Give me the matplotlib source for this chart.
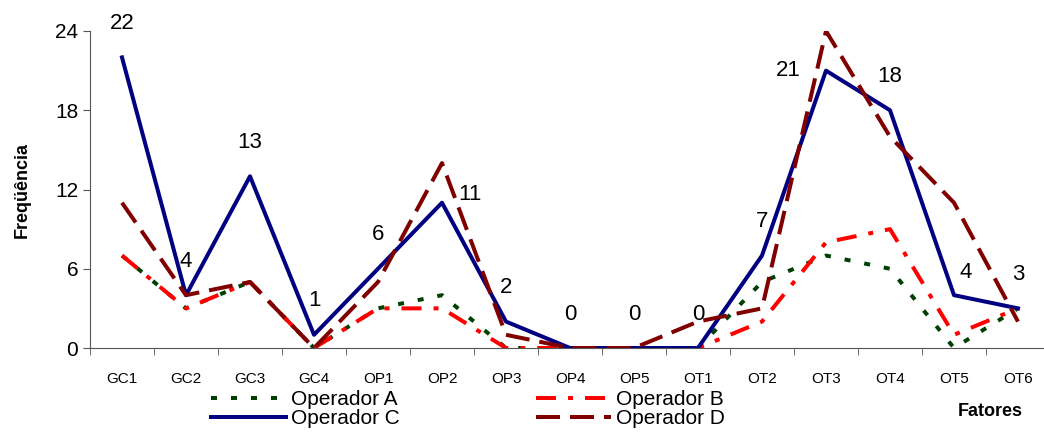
import matplotlib.pyplot as plt
import numpy as np

categories = ['GC1', 'GC2', 'GC3', 'GC4', 'OP1', 'OP2', 'OP3', 'OP4', 'OP5',
              'OT1', 'OT2', 'OT3', 'OT4', 'OT5', 'OT6']
operador_a = [7, 3, 5, 0, 3, 4, 0, 0, 0, 0, 5, 7, 6, 0, 3]
operador_b = [7, 3, 5, 0, 3, 3, 0, 0, 0, 0, 2, 8, 9, 1, 3]
operador_c = [22, 4, 13, 1, 6, 11, 2, 0, 0, 0, 7, 21, 18, 4, 3]
operador_d = [11, 4, 5, 0, 5, 14, 1, 0, 0, 2, 3, 24, 16, 11, 2]

plt.rcParams['font.family'] = ['Liberation Sans', 'DejaVu Sans']
plt.rcParams['lines.scale_dashes'] = False

fig = plt.figure(figsize=(10.44, 4.32), dpi=100)
ax = fig.add_axes([90 / 1044, 1 - 348 / 432, 960 / 1044, 317 / 432])

x = np.arange(len(categories))
px = 0.72  # points per pixel
lw = 4 * px

la, = ax.plot(x, operador_a, color='#004000', lw=lw, dashes=(6 * px, 14 * px), label='Operador A')
lb, = ax.plot(x, operador_b, color='#ff0000', lw=lw,
              dashes=(20 * px, 12 * px, 5 * px, 12 * px), label='Operador B')
lc, = ax.plot(x, operador_c, color='#000080', lw=lw, label='Operador C')
ld, = ax.plot(x, operador_d, color='#800000', lw=lw, dashes=(24 * px, 10 * px), label='Operador D')

# data labels for Operador C
offsets = {5: (28, 8), 11: (-38, 0), 13: (12, 23)}
for i, v in enumerate(operador_c):
    dx, dy = offsets.get(i, (0, 34))
    ax.annotate(str(v), (x[i], v), xytext=(dx, dy), textcoords='offset pixels',
                ha='center', va='center', fontsize=16, annotation_clip=False)

ax.set_xlim(-0.5, len(categories) - 0.5)
ax.set_ylim(0, 24)
ax.set_yticks([0, 6, 12, 18, 24])
ax.tick_params(axis='y', labelsize=15, length=5, color='#555555')
ax.set_xticks(x)
ax.set_xticklabels(categories, fontsize=11)
ax.set_xticks(np.arange(len(categories) + 1) - 0.5, minor=True)
ax.tick_params(axis='x', which='major', length=0, pad=17)
ax.tick_params(axis='x', which='minor', length=5, color='#555555')

for s in ['top', 'right']:
    ax.spines[s].set_visible(False)
ax.spines['left'].set_color('#555555')
ax.spines['bottom'].set_color('#555555')

fig.text(22 / 1044, 1 - 190 / 432, 'Freqüência', rotation=90, fontsize=13,
         fontweight='bold', ha='center', va='center')
fig.text(990 / 1044, 1 - 412 / 432, 'Fatores', fontsize=13, fontweight='bold',
         ha='center', va='center')

# column-wise fill: A, C in first column, B, D in second
fig.legend(handles=[la, lc, lb, ld], ncol=2, loc='center', frameon=False,
           bbox_to_anchor=(468 / 1044, 1 - 409 / 432), fontsize=15,
           handlelength=3.6, handletextpad=0.25, labelspacing=0.0,
           columnspacing=6.5, borderpad=0)

fig.savefig('out.png', dpi=100)
